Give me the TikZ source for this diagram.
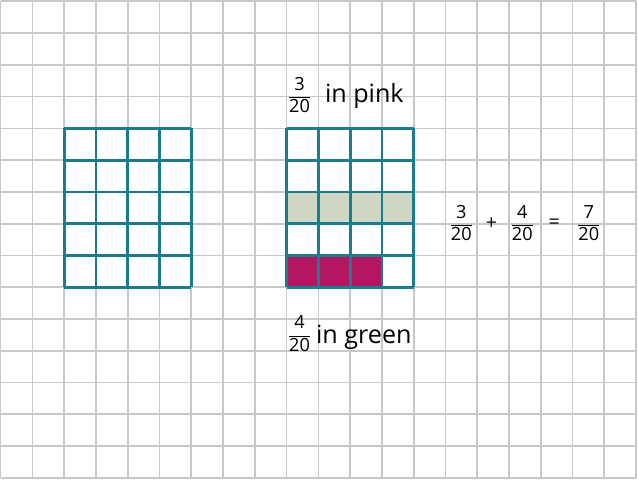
\documentclass[tikz,border=0pt]{standalone}
\usepackage{fontspec}
\usepackage{amsmath}
\setmainfont{Open Sans}
\usetikzlibrary{positioning}
\definecolor{gridgray}{RGB}{200,200,200}
\definecolor{barteal}{RGB}{24,125,143}
\definecolor{fillpink}{RGB}{181,22,98}
\definecolor{fillgreen}{RGB}{207,214,196}
\tikzset{
  paper/.style={gridgray, line width=1.2pt},
  model/.style={barteal, line width=2pt},
  fractext/.style={font=\fontsize{13}{15}\selectfont, inner sep=0pt},
  optext/.style={font=\fontsize{14}{16}\selectfont, inner sep=0pt},
  labeltext/.style={font=\fontsize{18}{21}\selectfont, inner sep=0pt},
}
\newcommand{\fr}[2]{$\displaystyle\frac{\text{#1}}{\text{#2}}$}
\begin{document}
\begin{tikzpicture}[scale=0.8]
  \useasboundingbox (-0.02,-0.04) rectangle (20.06,15.04);
  % grid paper
  \draw[paper] (0,0) grid (20,15);
  % shaded parts
  \fill[fillgreen] (9,8) rectangle (13,9);
  \fill[fillpink] (9,6) rectangle (12,7);
  % the two models
  \draw[model] (2,6) grid (6,11);
  \draw[model] (9,6) grid (13,11);
  % labels
  \node[fractext] (pinkfrac) at (9.41,12.05) {\fr{3}{20}};
  \node[labeltext, anchor=base west] (pinktext) at (10.2,11.81) {in pink};
  \node[fractext] (greenfrac) at (9.41,4.53) {\fr{4}{20}};
  \node[labeltext, anchor=base west] (greentext) at (9.92,4.24) {in green};
  % the sum
  \node[fractext] (sumA) at (14.5,8.02) {\fr{3}{20}};
  \node[optext] (plus) at (15.45,8.0) {+};
  \node[fractext] (sumB) at (16.42,8.02) {\fr{4}{20}};
  \node[optext] (equals) at (17.42,8.0) {=};
  \node[fractext] (sumC) at (18.51,8.02) {\fr{7}{20}};
\end{tikzpicture}
\end{document}
